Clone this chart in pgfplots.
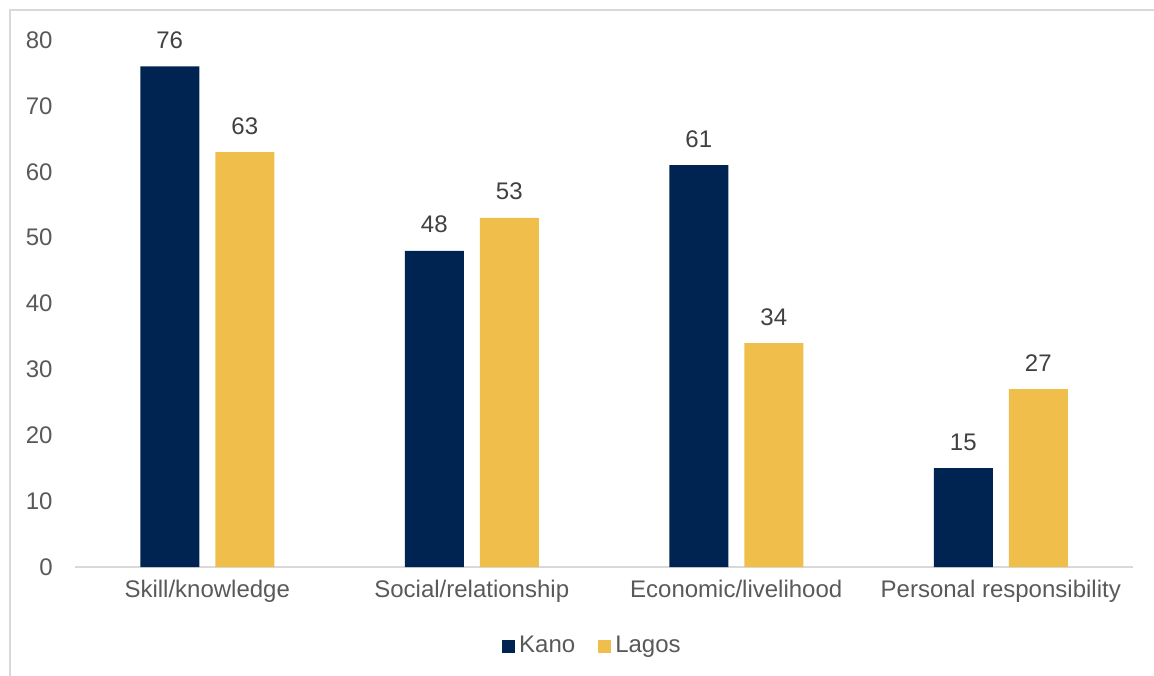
\documentclass[border=0pt]{standalone}
\usepackage{fontspec}
\setmainfont{Liberation Sans}
\usepackage{pgfplots}
\pgfplotsset{compat=1.18}
\definecolor{kano}{HTML}{002452}
\definecolor{lagos}{HTML}{F0BE4B}
\definecolor{txt}{HTML}{595959}
\definecolor{lbl}{HTML}{404040}
\definecolor{axgray}{HTML}{D9D9D9}
\begin{document}
\begin{tikzpicture}[x=1pt,y=1pt]
\path[use as bounding box] (0,0) rectangle (577,337.5);
\draw[axgray, line width=1pt] (5,-5) -- (5,332.5) -- (582,332.5);
\begin{axis}[
  at={(37.5pt,54pt)}, anchor=south west,
  scale only axis, width=529pt, height=263.5pt,
  xmin=-0.5, xmax=3.5, ymin=0, ymax=80,
  xtick={0,1,2,3},
  xticklabels={Skill/knowledge,Social/relationship,Economic/livelihood,Personal responsibility},
  ytick={0,10,...,80},
  axis lines*=left,
  x axis line style={-, axgray, line width=1pt},
  y axis line style={draw=none},
  major tick length=0pt,
  tick style={draw=none},
  /pgf/number format/assume math mode=true,
  tick label style={font=\fontsize{12}{14}\selectfont, text=txt},
  yticklabel style={anchor=east, inner sep=0pt, xshift=-11pt},
  xticklabel style={anchor=base, inner sep=0pt, yshift=-15.25pt},
  clip=false,
  legend columns=2,
  legend style={draw=none, fill=none, at={(0.49,-0.15)}, anchor=center,
    font=\fontsize{12}{14}\selectfont, text=txt,
    /tikz/every even column/.append style={column sep=9.5pt},
    inner sep=0pt},
  legend image code/.code={\fill[#1] (0pt,-3.25pt) rectangle (6.5pt,3.25pt);},
]
\addplot[ybar, bar width=29.5pt, bar shift=-18.75pt, fill=kano, draw=none,
  nodes near coords,
  every node near coord/.style={font=\fontsize{12}{14}\selectfont, text=lbl, anchor=base, inner sep=0pt, xshift=-18.75pt, yshift=9pt}]
  coordinates {(0,76) (1,48) (2,61) (3,15)};
\addlegendentry{Kano}
\addplot[ybar, bar width=29.5pt, bar shift=18.75pt, fill=lagos, draw=none,
  nodes near coords,
  every node near coord/.style={font=\fontsize{12}{14}\selectfont, text=lbl, anchor=base, inner sep=0pt, xshift=18.75pt, yshift=9pt}]
  coordinates {(0,63) (1,53) (2,34) (3,27)};
\addlegendentry{Lagos}
\end{axis}
\end{tikzpicture}
\end{document}
